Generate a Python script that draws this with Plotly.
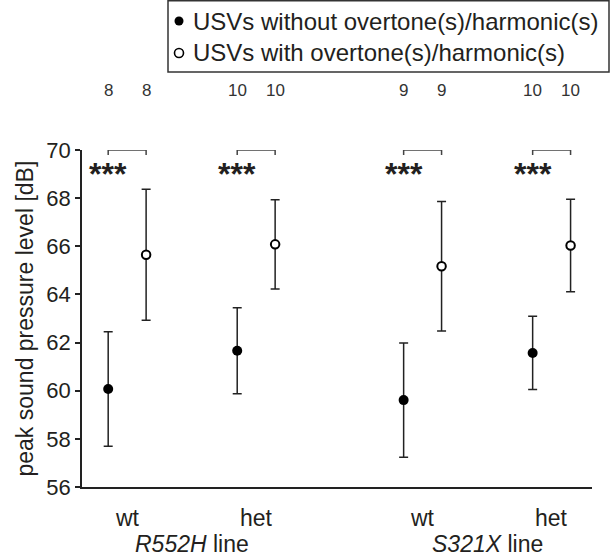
import plotly.graph_objects as go

# ---------------- data ----------------
line_names = ["R552H", "S321X"]
genotypes = ["wt", "het", "wt", "het"]
series_names = ["USVs without overtone(s)/harmonic(s)",
                "USVs with overtone(s)/harmonic(s)"]
without_mean = [60.07, 61.66, 59.61, 61.57]
without_err = [2.38, 1.79, 2.37, 1.52]
with_mean = [65.65, 66.08, 65.17, 66.03]
with_err = [2.72, 1.85, 2.69, 1.92]
n_without = [8, 10, 9, 10]
n_with = [8, 10, 9, 10]
significance = ["***", "***", "***", "***"]
y_ticks = [56, 58, 60, 62, 64, 66, 68, 70]

# ---------------- layout helpers ----------------
FONT = "Liberation Sans, Arial, sans-serif"
TXT = "#231f20"
group_pos = [0.0, 1.0, 2.29, 3.29]
off = 0.147
x_without = [g - off for g in group_pos]
x_with = [g + off for g in group_pos]

W, H = 611, 560
ML, MR, MT, MB = 82, 19, 150, 73
PW, PH = W - ML - MR, H - MT - MB


def px_x(px):
    return (px - ML) / PW


def px_y(py):
    return (H - MB - py) / PH


fig = go.Figure()
fig.add_trace(go.Scatter(
    x=x_without, y=without_mean, mode="markers", name=series_names[0],
    marker=dict(size=10, color="black", line=dict(width=0)),
    error_y=dict(type="data", array=without_err, visible=True,
                 color="#222", thickness=1.5, width=4.5),
    showlegend=False))
fig.add_trace(go.Scatter(
    x=x_with, y=with_mean, mode="markers", name=series_names[1],
    marker=dict(size=8.5, color="white", line=dict(width=2, color="black")),
    error_y=dict(type="data", array=with_err, visible=True,
                 color="#222", thickness=1.5, width=4.5),
    showlegend=False))

ann = []
shapes = []
# sample sizes
for i in range(4):
    for xv, n in ((x_without[i], n_without[i]), (x_with[i], n_with[i])):
        ann.append(dict(x=xv, y=px_y(90), xref="x", yref="paper", text=str(n),
                        showarrow=False, xanchor="center", yanchor="middle",
                        font=dict(size=17, color="#333", family=FONT)))
    # bracket
    shapes.append(dict(type="path", xref="x", yref="y",
                       path=f"M {x_without[i]},69.79 L {x_without[i]},70 L {x_with[i]},70 L {x_with[i]},69.79",
                       line=dict(color="#444", width=1.5)))
    ann.append(dict(x=x_without[i], y=69.0, xref="x", yref="y",
                    text=f"<b>{significance[i]}</b>",
                    showarrow=False, xanchor="center", yanchor="middle",
                    font=dict(size=32, color=TXT, family=FONT)))
    # genotype labels
    ann.append(dict(x=group_pos[i], y=px_y(518), xref="x", yref="paper", text=genotypes[i],
                    showarrow=False, xanchor="center", yanchor="middle",
                    font=dict(size=23, color=TXT, family=FONT)))
for j, ln in enumerate(line_names):
    cx = (group_pos[2 * j] + group_pos[2 * j + 1]) / 2
    ann.append(dict(x=cx, y=px_y(544), xref="x", yref="paper",
                    text=f"<i>{ln}</i> line", showarrow=False,
                    xanchor="center", yanchor="middle",
                    font=dict(size=23, color=TXT, family=FONT)))

# y axis title
ann.append(dict(x=px_x(24), y=0.5, xref="paper", yref="paper",
                text="peak sound pressure level [dB]", textangle=-90,
                showarrow=False, xanchor="center", yanchor="middle",
                font=dict(size=23, color=TXT, family=FONT)))

# manual legend
shapes.append(dict(type="rect", xref="paper", yref="paper",
                   x0=px_x(168), x1=px_x(609), y0=px_y(72), y1=px_y(0.8),
                   line=dict(color="#333", width=1.5), fillcolor="white"))
leg_rows = [21, 53]
for k, name in enumerate(series_names):
    yy = px_y(leg_rows[k])
    filled = (k == 0)
    shapes.append(dict(type="circle", xref="paper", yref="paper",
                       xsizemode="pixel", ysizemode="pixel",
                       xanchor=px_x(179), yanchor=yy,
                       x0=-4.5, x1=4.5, y0=-4.5, y1=4.5,
                       fillcolor="black" if filled else "white",
                       line=dict(color="black", width=0 if filled else 1.6)))
    ann.append(dict(x=px_x(191), y=yy, xref="paper", yref="paper", text=name,
                    showarrow=False, xanchor="left", yanchor="middle",
                    font=dict(size=24, color=TXT, family=FONT)))

fig.update_layout(
    width=W, height=H, margin=dict(l=ML, r=MR, t=MT, b=MB, pad=0),
    paper_bgcolor="white", plot_bgcolor="white",
    font=dict(family=FONT, color=TXT),
    annotations=ann, shapes=shapes, showlegend=False,
    xaxis=dict(range=[-0.35, 3.603], showgrid=False, zeroline=False,
               showticklabels=False, ticks="", showline=True,
               linecolor="#222", linewidth=1.5),
    yaxis=dict(range=[56, 70], showgrid=False, zeroline=False,
               tickvals=y_ticks, ticks="outside", ticklen=5, tickwidth=1.5,
               tickcolor="#222", showline=True, linecolor="#222", linewidth=1.5,
               tickfont=dict(size=22, color=TXT, family=FONT)),
)

fig.write_html("out.html")
